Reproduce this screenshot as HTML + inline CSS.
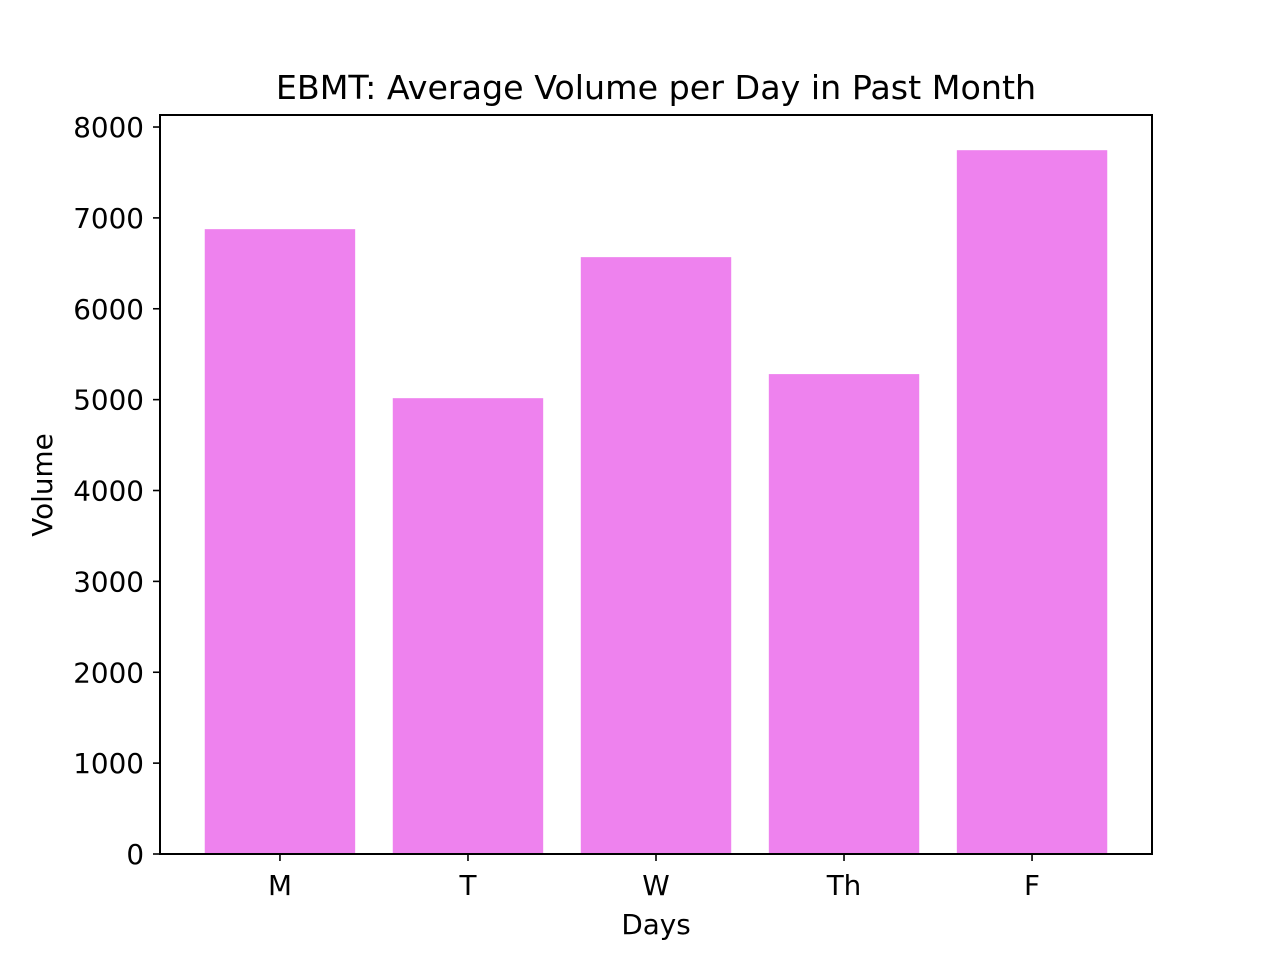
<!DOCTYPE html>
<html><head><meta charset="utf-8"><style>
html,body{margin:0;padding:0;background:#fff;}
svg{display:block;font-family:"DejaVu Sans","Liberation Sans",sans-serif;}
</style></head><body>
<svg id="chart" width="1280" height="960" viewBox="0 0 1280 960">
<rect x="0" y="0" width="1280" height="960" fill="#fff"/>
<text x="656" y="99" font-size="33.3" text-anchor="middle">EBMT: Average Volume per Day in Past Month</text>
<g id="bars"></g>
<g id="yticks"></g>
<g id="xticks"></g>
<rect x="160" y="115" width="992" height="739" fill="none" stroke="#000" stroke-width="2"/>
<text x="656" y="934" font-size="27.8" text-anchor="middle">Days</text>
<text transform="translate(52,485) rotate(-90)" font-size="27.8" text-anchor="middle">Volume</text>
</svg>
<script>
const categories = ["M","T","W","Th","F"];
const volumes = [6876, 5016, 6568, 5281, 7745];
const yTicks = [0,1000,2000,3000,4000,5000,6000,7000,8000];

const NS = "http://www.w3.org/2000/svg";
const plotL = 160, plotR = 1152, plotT = 115, plotB = 854;
const yMax = Math.max(...volumes) * 1.05;
const y = v => plotB - (v / yMax) * (plotB - plotT);
const xMin = -0.638, xMax = categories.length - 1 + 0.638;
const x = i => plotL + (i - xMin) / (xMax - xMin) * (plotR - plotL);
const bw = 0.8 * (plotR - plotL) / (xMax - xMin);

const bars = document.getElementById("bars");
volumes.forEach((v, i) => {
  const r = document.createElementNS(NS, "rect");
  r.setAttribute("x", x(i) - bw / 2);
  r.setAttribute("y", y(v));
  r.setAttribute("width", bw);
  r.setAttribute("height", plotB - y(v));
  r.setAttribute("fill", "#ee82ee");
  
  
  bars.appendChild(r);
});

const yt = document.getElementById("yticks");
yTicks.forEach(t => {
  const l = document.createElementNS(NS, "line");
  l.setAttribute("x1", plotL - 7); l.setAttribute("x2", plotL);
  l.setAttribute("y1", y(t)); l.setAttribute("y2", y(t));
  l.setAttribute("stroke", "#000"); l.setAttribute("stroke-width", "1.6");
  
  
  yt.appendChild(l);
  const tx = document.createElementNS(NS, "text");
  tx.setAttribute("x", plotL - 16); tx.setAttribute("y", y(t) + 10);
  tx.setAttribute("font-size", "27.8"); tx.setAttribute("text-anchor", "end");
  tx.textContent = t;
  
  
  yt.appendChild(tx);
});

const xt = document.getElementById("xticks");
categories.forEach((c, i) => {
  const l = document.createElementNS(NS, "line");
  l.setAttribute("x1", x(i)); l.setAttribute("x2", x(i));
  l.setAttribute("y1", plotB); l.setAttribute("y2", plotB + 7);
  l.setAttribute("stroke", "#000"); l.setAttribute("stroke-width", "1.6");
  
  
  xt.appendChild(l);
  const tx = document.createElementNS(NS, "text");
  tx.setAttribute("x", x(i)); tx.setAttribute("y", plotB + 41);
  tx.setAttribute("font-size", "27.8"); tx.setAttribute("text-anchor", "middle");
  tx.textContent = c;
  
  
  xt.appendChild(tx);
});
</script>
</body></html>
